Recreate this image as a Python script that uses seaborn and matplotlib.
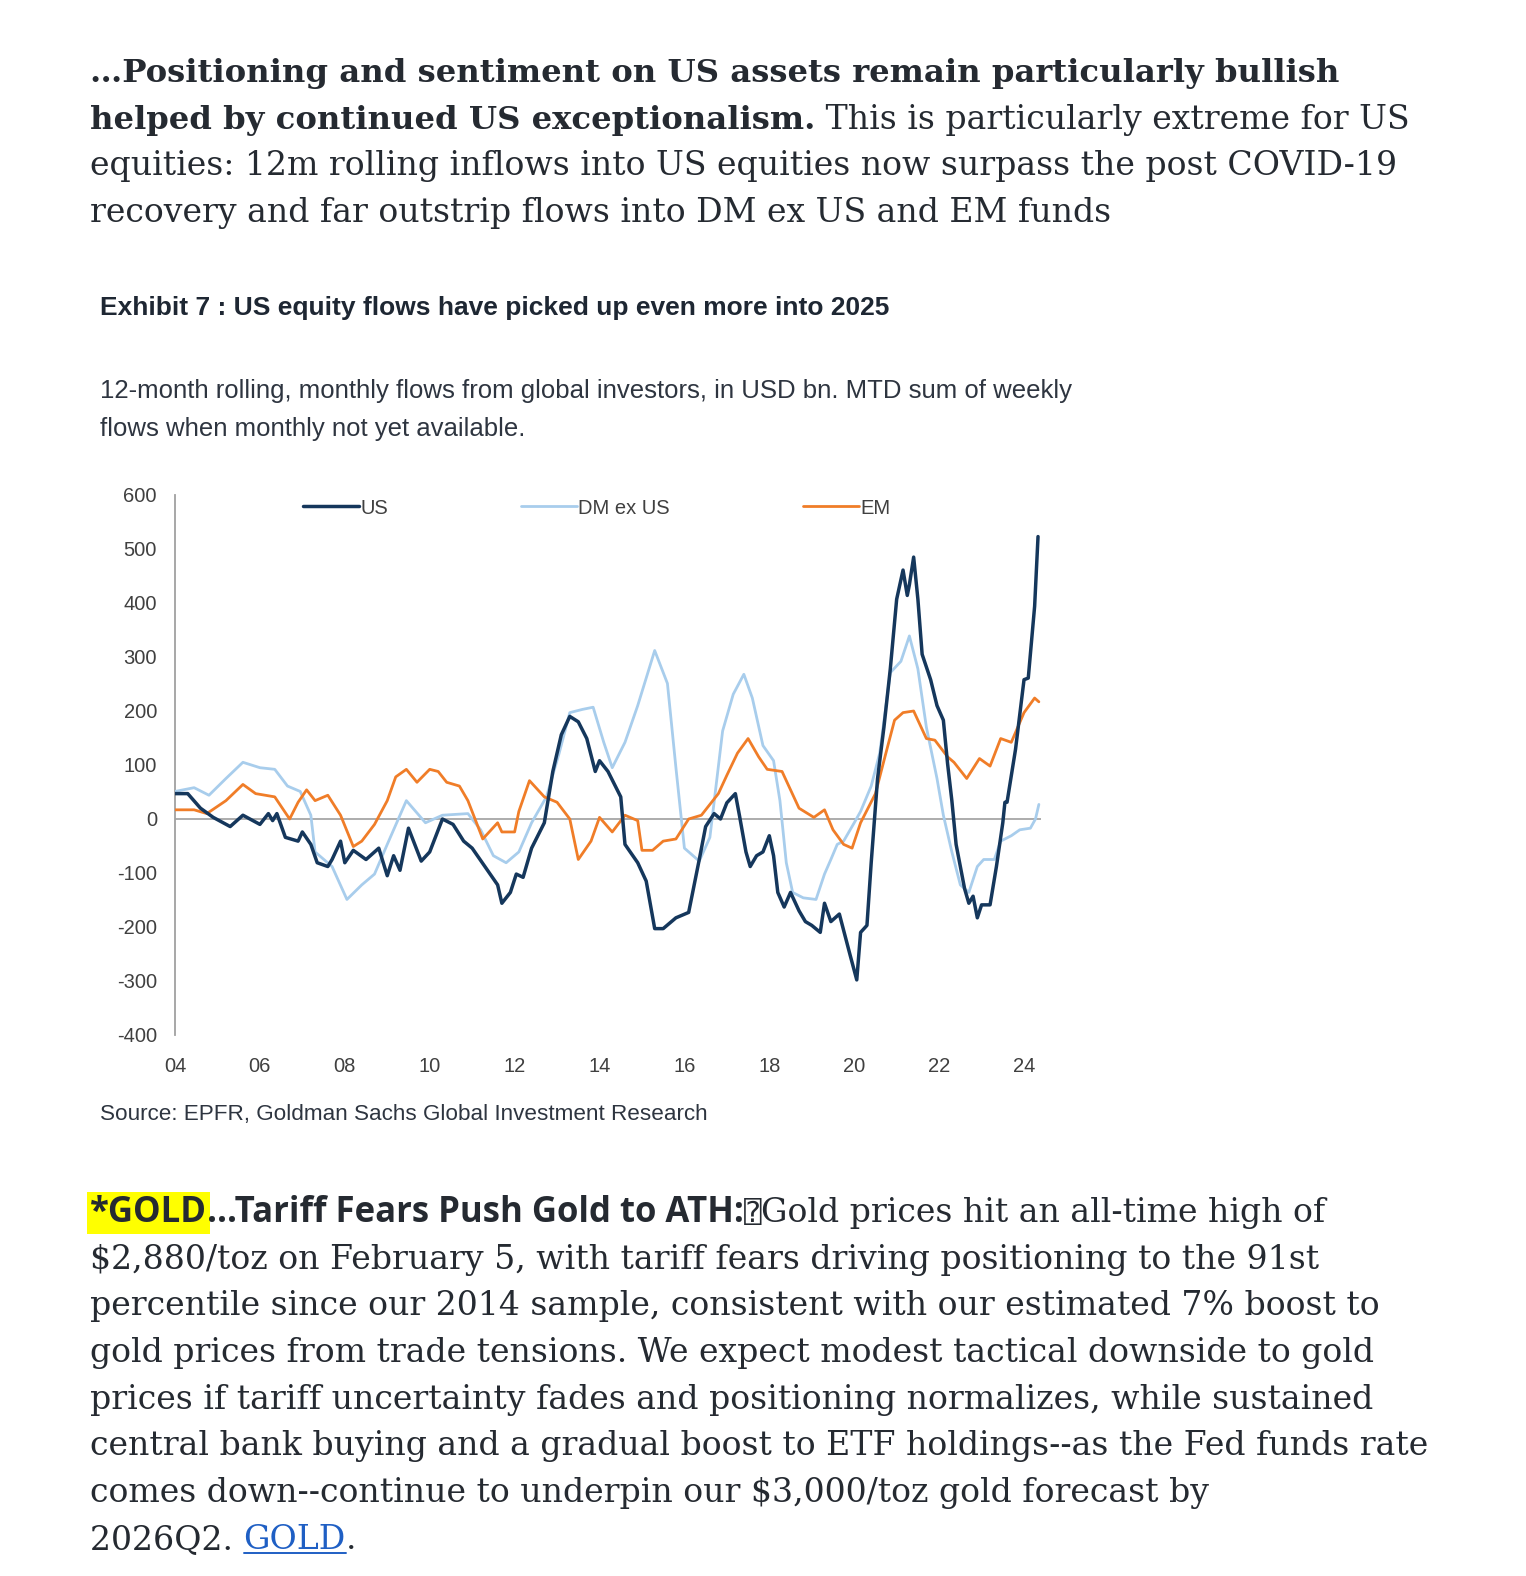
"""
US / DM ex US / EM 12m rolling equity flows, embedded between two text paragraphs.
"""

import numpy as np
import pandas as pd
import seaborn as sns
import matplotlib.pyplot as plt
from matplotlib.lines import Line2D

# ---- data (USD bn) ----
us_year = [2004.0, 2004.3, 2004.6, 2004.9, 2005.3, 2005.6, 2006.0, 2006.2, 2006.3, 2006.4,
           2006.6, 2006.9, 2007.0, 2007.2, 2007.35, 2007.6, 2007.7, 2007.9, 2008.0, 2008.2,
           2008.5, 2008.8, 2009.0, 2009.15, 2009.3, 2009.5, 2009.8, 2010.0, 2010.3, 2010.55,
           2010.8, 2011.0, 2011.3, 2011.6, 2011.7, 2011.9, 2012.04, 2012.2, 2012.4, 2012.7,
           2012.9, 2013.1, 2013.3, 2013.5, 2013.7, 2013.9, 2014.0, 2014.2, 2014.5, 2014.6,
           2014.9, 2015.1, 2015.3, 2015.5, 2015.8, 2016.1, 2016.35, 2016.5, 2016.7, 2016.85,
           2017.0, 2017.2, 2017.3, 2017.45, 2017.55, 2017.7, 2017.85, 2018.0, 2018.1, 2018.2,
           2018.35, 2018.5, 2018.7, 2018.85, 2019.0, 2019.2, 2019.3, 2019.45, 2019.65, 2019.9,
           2020.06, 2020.15, 2020.3, 2020.4, 2020.55, 2020.7, 2020.85, 2021.0, 2021.15, 2021.25,
           2021.3, 2021.4, 2021.5, 2021.6, 2021.8, 2021.95, 2022.1, 2022.2, 2022.3, 2022.4,
           2022.6, 2022.7, 2022.8, 2022.9, 2023.0, 2023.2, 2023.35, 2023.5, 2023.55, 2023.6,
           2023.8, 2024.0, 2024.1, 2024.25, 2024.33]
us_flow = [47, 47, 20, 3, -14, 7, -10, 10, -3, 10,
           -34, -41, -24, -47, -81, -88, -75, -41, -81, -58,
           -75, -54, -105, -68, -95, -17, -78, -61, 0, -10,
           -41, -54, -88, -122, -156, -136, -102, -108, -54, -7,
           88, 156, 190, 180, 149, 88, 108, 88, 41, -47,
           -81, -115, -203, -203, -183, -173, -75, -14, 10, 0,
           30, 47, 5, -61, -88, -68, -61, -31, -68, -136,
           -163, -136, -170, -190, -197, -210, -156, -190, -176, -251,
           -298, -210, -197, -81, 75, 170, 278, 407, 461, 414,
           434, 485, 407, 305, 258, 210, 183, 102, 34, -47,
           -129, -156, -143, -183, -159, -159, -88, -7, 31, 31,
           129, 258, 261, 394, 523]

dm_year = [2004.0, 2004.45, 2004.8, 2005.2, 2005.6, 2006.0, 2006.35, 2006.65, 2006.95, 2007.2,
           2007.3, 2007.7, 2008.05, 2008.4, 2008.7, 2009.0, 2009.45, 2009.9, 2010.3, 2010.9,
           2011.2, 2011.5, 2011.8, 2012.1, 2012.4, 2012.75, 2013.05, 2013.3, 2013.6, 2013.85,
           2014.1, 2014.3, 2014.6, 2014.9, 2015.3, 2015.6, 2015.8, 2016.0, 2016.35, 2016.6,
           2016.9, 2017.15, 2017.4, 2017.6, 2017.85, 2018.1, 2018.25, 2018.4, 2018.55, 2018.8,
           2019.1, 2019.3, 2019.45, 2019.6, 2019.75, 2020.0, 2020.15, 2020.4, 2020.6, 2020.85,
           2021.1, 2021.3, 2021.5, 2021.7, 2021.95, 2022.1, 2022.3, 2022.5, 2022.7, 2022.9,
           2023.05, 2023.3, 2023.45, 2023.7, 2023.9, 2024.15, 2024.27, 2024.35]
dm_flow = [51, 58, 44, 75, 105, 95, 92, 61, 51, 7,
           -61, -88, -149, -122, -102, -47, 34, -7, 7, 10,
           -20, -68, -81, -61, -7, 41, 122, 197, 203, 207,
           142, 95, 142, 210, 312, 251, 95, -54, -78, -34,
           163, 231, 268, 224, 136, 108, 34, -81, -136, -146,
           -149, -102, -75, -47, -41, -7, 14, 61, 122, 271,
           292, 339, 278, 170, 75, 7, -61, -122, -136, -88,
           -75, -75, -41, -31, -20, -17, 0, 27]

em_year = [2004.0, 2004.45, 2004.75, 2005.2, 2005.6, 2005.9, 2006.35, 2006.7, 2006.9, 2007.1,
           2007.3, 2007.6, 2007.9, 2008.2, 2008.4, 2008.7, 2009.0, 2009.2, 2009.45, 2009.7,
           2010.0, 2010.2, 2010.4, 2010.7, 2010.9, 2011.25, 2011.6, 2011.7, 2012.0, 2012.1,
           2012.35, 2012.7, 2013.0, 2013.3, 2013.5, 2013.8, 2014.0, 2014.3, 2014.6, 2014.9,
           2015.0, 2015.25, 2015.5, 2015.8, 2016.1, 2016.4, 2016.8, 2017.0, 2017.25, 2017.5,
           2017.75, 2017.95, 2018.3, 2018.7, 2019.05, 2019.3, 2019.5, 2019.75, 2019.95, 2020.15,
           2020.5, 2020.7, 2020.95, 2021.15, 2021.4, 2021.7, 2021.9, 2022.2, 2022.35, 2022.65,
           2022.95, 2023.2, 2023.45, 2023.7, 2024.0, 2024.25, 2024.35]
em_flow = [17, 17, 10, 34, 64, 47, 41, 0, 31, 54,
           34, 44, 7, -51, -41, -10, 34, 78, 92, 68,
           92, 88, 68, 61, 34, -37, -7, -24, -24, 14,
           71, 41, 31, 0, -75, -41, 3, -24, 7, -3,
           -58, -58, -41, -37, 0, 7, 47, 81, 122, 149,
           115, 92, 88, 20, 3, 17, -20, -47, -54, -7,
           47, 108, 183, 197, 200, 149, 146, 115, 105, 75,
           112, 98, 149, 142, 197, 224, 217]

series_names = ["US", "DM ex US", "EM"]
series_colors = {"US": "#15375c", "DM ex US": "#a8cdec", "EM": "#f07d28"}
series_widths = {"US": 2.5, "DM ex US": 2.0, "EM": 2.0}

y_ticks = [600, 500, 400, 300, 200, 100, 0, -100, -200, -300, -400]
x_ticks = [2004, 2006, 2008, 2010, 2012, 2014, 2016, 2018, 2020, 2022, 2024]
x_labels = ["04", "06", "08", "10", "12", "14", "16", "18", "20", "22", "24"]

flows = pd.concat([
    pd.DataFrame({"year": us_year, "flow": us_flow, "series": "US"}),
    pd.DataFrame({"year": dm_year, "flow": dm_flow, "series": "DM ex US"}),
    pd.DataFrame({"year": em_year, "flow": em_flow, "series": "EM"}),
], ignore_index=True)

# ---- figure ----
sns.set_style("white")
plt.rcParams["axes.unicode_minus"] = False
W, H = 1526, 1576
fig = plt.figure(figsize=(W / 100, H / 100), dpi=100)
fig.patch.set_facecolor("white")


def fx(x):
    return x / W


def fy(y):
    return 1 - y / H


TXT = "#252a31"
SERIF = ["DejaVu Serif"]
NARROW = ["Liberation Sans"]


def run(x, y, parts):
    """Draw text pieces one after another on a shared baseline (pixel coords)."""
    renderer = fig.canvas.get_renderer()
    drawn = []
    for s, kw in parts:
        t = fig.text(fx(x), fy(y), s, ha="left", va="baseline", **kw)
        bb = t.get_window_extent(renderer)
        x = bb.x1
        drawn.append(t)
    return drawn


bold_serif = dict(family=SERIF, fontsize=23.2, fontweight="bold", color=TXT)
reg_serif = dict(family=SERIF, fontsize=23.9, color=TXT)

# top paragraph
lh = 46.7
run(90, 82, [("…Positioning and sentiment on US assets remain particularly bullish", bold_serif)])
run(90, 82 + lh, [("helped by continued US exceptionalism.", bold_serif),
                  (" This is particularly extreme for US", reg_serif)])
run(90, 82 + 2 * lh, [("equities: 12m rolling inflows into US equities now surpass the post COVID-19", reg_serif)])
run(90, 82 + 3 * lh, [("recovery and far outstrip flows into DM ex US and EM funds", reg_serif)])

# chart titles
fig.text(fx(100), fy(315), "Exhibit 7 : US equity flows have picked up even more into 2025",
         family=NARROW, fontsize=19, fontweight="bold", color="#1e2733", va="baseline")
fig.text(fx(100), fy(398), "12-month rolling, monthly flows from global investors, in USD bn. MTD sum of weekly",
         family=NARROW, fontsize=18.5, color="#2e3540", va="baseline")
fig.text(fx(100), fy(436), "flows when monthly not yet available.",
         family=NARROW, fontsize=18.5, color="#2e3540", va="baseline")
fig.text(fx(100), fy(1120), "Source: EPFR, Goldman Sachs Global Investment Research",
         family=NARROW, fontsize=16.2, color="#2e3540", va="baseline")

# ---- chart ----
ax = fig.add_axes([fx(175), fy(1035), fx(1041) - fx(175), (1035 - 495) / H])
ax.axhline(0, color="#a6a6a6", lw=1.3, zorder=1)
for name in ["DM ex US", "EM", "US"]:
    sns.lineplot(data=flows[flows["series"] == name], x="year", y="flow", ax=ax,
                 color=series_colors[name], lw=series_widths[name], label=name,
                 estimator=None, sort=False, zorder=3)

ax.set_xlim(2004, 2024.4)
ax.set_ylim(-400, 600)
ax.set_yticks(y_ticks)
ax.set_xticks(x_ticks)
ax.set_xticklabels(x_labels)
ax.set_xlabel("")
ax.set_ylabel("")
for side in ["top", "right", "bottom"]:
    ax.spines[side].set_visible(False)
ax.spines["left"].set_color("#a0a0a0")
ax.spines["left"].set_linewidth(1.3)
ax.tick_params(axis="y", direction="out", length=4, width=1.1, color="#a0a0a0",
               labelsize=14.5, labelcolor="#404040", pad=9)
ax.tick_params(axis="x", length=0, labelsize=14.5, labelcolor="#404040", pad=16)
for lab in ax.get_xticklabels() + ax.get_yticklabels():
    lab.set_family("Liberation Sans")

handles = [Line2D([], [], color=series_colors[n], lw=series_widths[n]) for n in series_names]
leg = ax.legend(handles, series_names, loc="upper center", bbox_to_anchor=(0.487, 1.027),
                ncol=3, frameon=False, handlelength=2.8, handletextpad=0.05,
                columnspacing=6.6, prop={"family": "Liberation Sans", "size": 14.5})
for t in leg.get_texts():
    t.set_color("#404040")

# bottom paragraph
bold_sans = dict(family=["Open Sans", "DejaVu Sans"], fontsize=25, fontweight="bold", color=TXT)
b0 = 1222
run(90, b0, [("*GOLD", dict(bold_sans, bbox=dict(facecolor="#ffff00", edgecolor="none", pad=2.0))),
             ("...Tariff Fears Push Gold to ATH:", bold_sans),
             ("\u2370", dict(family=["DejaVu Sans Mono", "DejaVu Sans"], fontsize=21, color=TXT)),
             ("Gold prices hit an all-time high of", reg_serif)])
lines = [
    "$2,880/toz on February 5, with tariff fears driving positioning to the 91st",
    "percentile since our 2014 sample, consistent with our estimated 7% boost to",
    "gold prices from trade tensions. We expect modest tactical downside to gold",
    "prices if tariff uncertainty fades and positioning normalizes, while sustained",
    "central bank buying and a gradual boost to ETF holdings--as the Fed funds rate",
    "comes down--continue to underpin our $3,000/toz gold forecast by",
]
for i, s in enumerate(lines):
    run(90, b0 + (i + 1) * lh, [(s, reg_serif)])
last = run(90, b0 + 7 * lh, [("2026Q2. ", reg_serif),
                             ("GOLD", dict(reg_serif, color="#1f5fc4")),
                             (".", reg_serif)])
bb = last[1].get_window_extent(fig.canvas.get_renderer())
fig.add_artist(Line2D([fx(bb.x0), fx(bb.x1)], [fy(b0 + 7 * lh + 4)] * 2,
                      transform=fig.transFigure, color="#1f5fc4", lw=1.4))

fig.savefig("out.png", dpi=100, facecolor="white")
plt.close(fig)
